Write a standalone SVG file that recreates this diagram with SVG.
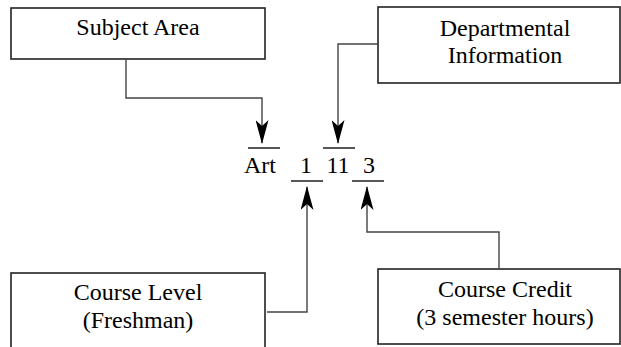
<svg xmlns="http://www.w3.org/2000/svg" width="621" height="347" viewBox="0 0 621 347">
<defs>
<style>
.box{fill:#fff;stroke:#222;stroke-width:1.6}
.t{font-family:'Liberation Serif','Times New Roman',serif;font-size:24px;fill:#000;text-anchor:middle}
.c{fill:none;stroke:#444;stroke-width:1.4}
.bar{stroke:#444;stroke-width:1.8}
</style>
<marker id="ah" viewBox="0 0 24 13" refX="23" refY="6.5" markerWidth="24" markerHeight="13" markerUnits="userSpaceOnUse" orient="auto">
<path d="M0,0 L24,6.5 L0,13 L6,6.5 Z" fill="#000"/>
</marker>
</defs>
<rect width="621" height="347" fill="#fff"/>
<g id="subject-area">
<rect class="box" x="11" y="8" width="254" height="51"/>
<text class="t" x="138" y="35">Subject Area</text>
</g>
<g id="departmental-information">
<rect class="box" x="378" y="7" width="242" height="76"/>
<text class="t" x="505" y="36">Departmental</text>
<text class="t" x="505" y="63">Information</text>
</g>
<g id="course-level">
<rect class="box" x="11" y="273" width="254" height="80"/>
<text class="t" x="138" y="300">Course Level</text>
<text class="t" x="138" y="328">(Freshman)</text>
</g>
<g id="course-credit">
<rect class="box" x="378" y="269" width="242" height="75"/>
<text class="t" x="505" y="297">Course Credit</text>
<text class="t" x="505" y="325">(3 semester hours)</text>
</g>
<g id="code">
<line class="bar" x1="248" y1="148" x2="280" y2="148"/>
<line class="bar" x1="323" y1="148" x2="355" y2="148"/>
<line class="bar" x1="291" y1="181" x2="323" y2="181"/>
<line class="bar" x1="352" y1="181" x2="384" y2="181"/>
<text class="t" x="260" y="173">Art</text>
<text class="t" x="306" y="173">1</text>
<text class="t" x="338" y="173">11</text>
<text class="t" x="369" y="173">3</text>
</g>
<g id="connectors">
<path class="c" d="M126,59 V98 H262 V143" marker-end="url(#ah)"/>
<path class="c" d="M378,44 H338 V143" marker-end="url(#ah)"/>
<path class="c" d="M267,312 H307 V187" marker-end="url(#ah)"/>
<path class="c" d="M499,269 V232 H367 V187" marker-end="url(#ah)"/>
</g>
</svg>
